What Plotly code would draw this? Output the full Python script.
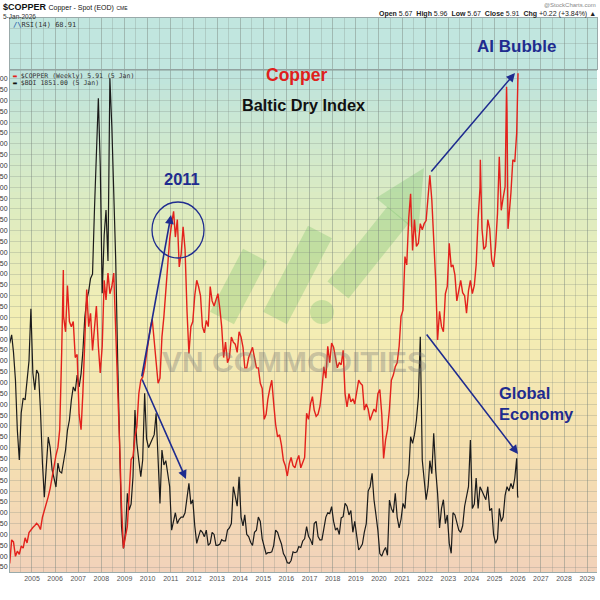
import plotly.graph_objects as go
import pandas as pd

# ---------------- data ----------------
# Copper spot ($/lb), monthly (mid-month) Jan-2004 .. Dec-2025
copper_monthly = [
    1.15, 1.38, 1.36, 1.22, 1.27, 1.24, 1.32, 1.30, 1.40, 1.35, 1.45, 1.48,
    1.50, 1.52, 1.54, 1.52, 1.48, 1.60, 1.66, 1.72, 1.80, 1.88, 2.00, 2.08,
    2.20, 2.28, 2.45, 3.20, 3.55, 3.40, 3.85, 3.50, 3.45, 3.50, 3.15, 3.18,
    2.60, 2.45, 2.80, 3.39, 3.81, 3.45, 3.58, 3.22, 3.42, 3.65, 3.26, 3.00,
    3.26, 3.90, 3.71, 3.97, 3.77, 3.84, 3.97, 3.45, 2.96, 2.32, 1.70, 1.30,
    1.41, 1.51, 1.83, 2.16, 2.19, 2.38, 2.48, 2.80, 2.93, 2.96, 3.05, 3.19,
    3.35, 3.45, 3.52, 3.29, 3.05, 2.90, 2.95, 3.35, 3.55, 3.80, 3.97, 4.30,
    4.45, 4.57, 4.32, 4.49, 4.03, 4.16, 4.42, 4.20, 3.60, 3.19, 3.45, 3.50,
    3.75, 3.90, 3.84, 3.75, 3.45, 3.39, 3.51, 3.45, 3.84, 3.70, 3.65, 3.72,
    3.77, 3.62, 3.45, 3.15, 3.30, 3.10, 3.15, 3.35, 3.30, 3.28, 3.20, 3.40,
    3.35, 3.25, 3.05, 3.05, 3.15, 3.20, 3.25, 3.15, 3.05, 3.05, 2.90, 2.85,
    2.55, 2.60, 2.75, 2.85, 2.93, 2.70, 2.50, 2.38, 2.40, 2.30, 2.15, 2.10,
    2.00, 2.12, 2.18, 2.10, 2.08, 2.15, 2.20, 2.08, 2.14, 2.18, 2.61, 2.55,
    2.70, 2.77, 2.64, 2.58, 2.60, 2.68, 2.85, 3.06, 2.95, 3.26, 3.10, 3.29,
    3.25, 3.13, 3.05, 3.10, 3.08, 3.22, 2.80, 2.67, 2.80, 2.72, 2.75, 2.70,
    2.80, 2.93, 2.90, 2.88, 2.64, 2.70, 2.65, 2.54, 2.60, 2.65, 2.62, 2.80,
    2.84, 2.60, 2.17, 2.35, 2.45, 2.65, 2.93, 2.98, 3.06, 3.10, 3.26, 3.55,
    3.61, 4.13, 4.05, 4.50, 4.74, 4.19, 4.49, 4.23, 4.26, 4.45, 4.39, 4.45,
    4.48, 4.68, 4.92, 4.68, 4.30, 3.90, 3.32, 3.60, 3.45, 3.40, 3.77, 3.84,
    4.26, 4.03, 4.05, 3.95, 3.70, 3.80, 3.90, 3.78, 3.75, 3.58, 3.80, 3.90,
    3.77, 3.85, 4.05, 4.50, 4.80, 4.40, 4.20, 4.23, 4.49, 4.40, 4.10, 4.03,
    4.23, 4.55, 5.10, 4.58, 4.70, 4.81, 5.55, 4.50, 4.75, 5.07, 5.05, 5.33,
]
copper_extra_dates = ["2006-05-11", "2024-05-20", "2025-07-08", "2025-07-31",
                      "2025-12-29", "2026-01-05"]
copper_extra_vals = [4.00, 5.07, 5.78, 4.40, 5.75, 5.91]

# Baltic Dry Index, monthly (mid-month) Jan-2004 .. Dec-2025
bdi_monthly = [
    5400, 5600, 5200, 4560, 3400, 2715, 3800, 4140, 4100, 4500, 5000, 6200,
    4720, 4330, 4790, 4700, 3867, 2646, 1860, 2554, 3245, 3000, 2485, 2300,
    2093, 2646, 2450, 2416, 2700, 2946, 3400, 3637, 4100, 4400, 4300, 4670,
    4400, 4700, 5200, 6000, 6400, 6600, 6900, 7000, 8500, 10000, 11048, 9500,
    6555, 7900, 8475, 7300, 11509, 10395, 8859, 7323, 5019, 2715, 1179, 680,
    1025, 1947, 1563, 1700, 2331, 3867, 3099, 2700, 2331, 2715, 4251, 3200,
    3000, 3100, 3200, 3300, 3790, 2900, 1716, 2945, 2600, 2700, 2400, 2100,
    1100, 1300, 1500, 1250, 1350, 1400, 1400, 1500, 1870, 2177, 1700, 1800,
    1200, 795, 950, 1100, 1050, 950, 1100, 750, 800, 1050, 1000, 750,
    750, 780, 880, 850, 850, 1100, 1150, 1250, 2100, 1900, 1650, 2331,
    1400, 1200, 1450, 1000, 950, 820, 750, 1050, 1100, 1400, 1300, 900,
    718, 550, 580, 580, 600, 750, 1100, 1050, 900, 780, 560, 480,
    350, 334, 400, 600, 580, 600, 720, 700, 850, 900, 1179, 960,
    880, 760, 1250, 1300, 950, 870, 880, 1200, 1400, 1500, 1480, 1640,
    1300, 1100, 1150, 1000, 1380, 1409, 1716, 1650, 1450, 1550, 1050, 1300,
    900, 642, 700, 780, 1050, 1250, 2000, 2100, 2408, 1800, 1450, 1100,
    560, 500, 620, 700, 520, 1793, 1600, 1500, 1947, 1400, 1150, 1350,
    1716, 1600, 2200, 2400, 3253, 3100, 3300, 3637, 4174, 5557, 2715, 2300,
    1800, 2100, 2700, 2400, 3330, 2485, 1947, 1150, 1600, 1800, 1250, 1450,
    800, 565, 1500, 1450, 1300, 1100, 1050, 1200, 1650, 1900, 2100, 3176,
    1600, 1700, 2300, 1600, 2100, 2000, 1900, 1800, 2100, 1550, 1600, 1000,
    795, 900, 1600, 1300, 1400, 1900, 2100, 2000, 2177, 2050, 2300, 2753,
]
bdi_extra_dates = ["2023-12-29", "2025-12-29", "2026-01-05"]
bdi_extra_vals = [2100, 1900, 1851]

bdi_ticks = list(range(250, 11751, 250))
year_ticks = list(range(2005, 2030))

# ---------------- build series ----------------
month_idx = pd.date_range("2004-01-01", periods=len(copper_monthly), freq="MS") + pd.Timedelta(days=14)
copper = pd.concat([pd.Series(copper_monthly, index=month_idx),
                    pd.Series(copper_extra_vals, index=pd.to_datetime(copper_extra_dates))]).sort_index()
bdi = pd.concat([pd.Series(bdi_monthly, index=month_idx),
                 pd.Series(bdi_extra_vals, index=pd.to_datetime(bdi_extra_dates))]).sort_index()

# ---------------- geometry helpers ----------------
W_, H_ = 600, 600
L, R, T, B = 10, 597, 18, 572
PW, PH = R - L, B - T


def px(x):
    return (x - L) / PW


def py(y):
    return (B - y) / PH


main_top = py(70)
rsi_bot = py(69)

NAVY = "#1f2c8f"
GRID = "rgba(120,130,125,0.26)"

fig = go.Figure()
fig.add_trace(go.Scatter(x=bdi.index, y=bdi.values, mode="lines", xaxis="x", yaxis="y",
                         line=dict(color="#1b1b1b", width=1.2), name="$BDI", hoverinfo="skip"))
fig.add_trace(go.Scatter(x=copper.index, y=copper.values, mode="lines", xaxis="x", yaxis="y2",
                         line=dict(color="#e3211c", width=1.4), name="$COPPER", hoverinfo="skip"))
fig.add_trace(go.Scatter(x=[], y=[], xaxis="x2", yaxis="y3", showlegend=False))

# ---------------- background shapes ----------------
shapes = []
stops = [(0.0, (242, 210, 186)), (0.25, (245, 224, 176)), (0.5, (244, 238, 180)),
         (0.72, (222, 236, 192)), (1.0, (190, 228, 222))]


def col_at(f):
    for (f0, c0), (f1, c1) in zip(stops[:-1], stops[1:]):
        if f0 <= f <= f1:
            t = (f - f0) / (f1 - f0)
            return "rgb(%d,%d,%d)" % tuple(round(a + (b - a) * t) for a, b in zip(c0, c1))
    return "rgb(%d,%d,%d)" % stops[-1][1]


N = 70
for i in range(N):
    f0 = i / N
    f1 = (i + 1) / N
    shapes.append(dict(type="rect", xref="paper", yref="paper", x0=0, x1=1,
                       y0=f0 * main_top, y1=f1 * main_top + 0.002,
                       fillcolor=col_at((f0 + f1) / 2), line=dict(width=0), layer="below"))
shapes.append(dict(type="rect", xref="paper", yref="paper", x0=0, x1=1, y0=rsi_bot, y1=1,
                   fillcolor="rgb(193,230,223)", line=dict(width=0), layer="below"))

# watermark logo (green translucent)
GREEN = "rgba(110,190,100,0.30)"
for (x0, y0, x1, y1) in [(222, 318, 255, 255), (275, 318, 320, 232), (338, 290, 398, 215)]:
    shapes.append(dict(type="line", xref="paper", yref="paper", x0=px(x0), y0=py(y0),
                       x1=px(x1), y1=py(y1), line=dict(color=GREEN, width=27), layer="below"))
shapes.append(dict(type="circle", xref="paper", yref="paper", x0=px(310), x1=px(334),
                   y0=py(324), y1=py(300), fillcolor=GREEN, line=dict(width=0), layer="below"))
tri = [(376, 198), (424, 168), (418, 233)]
path = "M %f %f L %f %f L %f %f Z" % (px(tri[0][0]), py(tri[0][1]), px(tri[1][0]), py(tri[1][1]),
                                       px(tri[2][0]), py(tri[2][1]))
shapes.append(dict(type="path", xref="paper", yref="paper", path=path, fillcolor=GREEN,
                   line=dict(width=0), layer="below"))

# separator between panels
shapes.append(dict(type="line", xref="paper", yref="paper", x0=0, x1=1, y0=main_top, y1=main_top,
                   line=dict(color="#8a9a96", width=1)))
# 2011 circle
shapes.append(dict(type="circle", xref="paper", yref="paper", x0=px(152), x1=px(204),
                   y0=py(258), y1=py(202), line=dict(color=NAVY, width=1.3)))

# ---------------- annotations ----------------
ann = []


def text(x, y, s, size, color="#222", xanchor="left", yanchor="top", family="Liberation Sans", **kw):
    ann.append(dict(x=px(x), y=py(y), xref="paper", yref="paper", text=s, showarrow=False,
                    xanchor=xanchor, yanchor=yanchor, font=dict(size=size, color=color, family=family), **kw))


text(1, 0, "<b>$COPPER</b> <span style='font-size:7px'>Copper - Spot (EOD)</span> "
           "<span style='font-size:5px'>CME</span>", 9, "#111")
text(1, 11, "5-Jan-2026", 6.5, "#333")
text(598, 0, "@StockCharts.com", 6, "#888", xanchor="right")
text(598, 8, "<b>Open</b> 5.67  <b>High</b> 5.96  <b>Low</b> 5.67  <b>Close</b> 5.91  "
             "<b>Chg</b> +0.22 (+3.84%) ▲", 7, "#222", xanchor="right")
text(11, 19, "<span style='color:#2b64a8'><b>/\\</b></span>RSI(14) 68.91", 7, "#333",
     family="DejaVu Sans Mono")
text(11, 70, "<span style='color:#e3211c'>▬</span> $COPPER (Weekly) 5.91 (5 Jan)", 6.5, "#333",
     family="DejaVu Sans Mono")
text(11, 77, "<span style='color:#111'>▬</span> $BDI 1851.00 (5 Jan)", 6.5, "#333",
     family="DejaVu Sans Mono")

text(296, 75, "<b>Copper</b>", 17.5, "#e0201b", xanchor="center", yanchor="middle")
text(303, 105, "<b>Baltic Dry Index</b>", 16.3, "#111", xanchor="center", yanchor="middle")
text(516, 47, "<b>AI Bubble</b>", 17, NAVY, xanchor="center", yanchor="middle")
text(182, 179, "<b>2011</b>", 16.5, NAVY, xanchor="center", yanchor="middle")
text(497, 403, "<b>Global<br>Economy</b>", 16.5, NAVY, xanchor="left", yanchor="middle", align="left")
text(294, 362, "<b>VN COMMODITIES</b>", 30, "rgba(120,120,120,0.36)", xanchor="center", yanchor="middle")


def arrow(hx, hy, tx, ty):
    ann.append(dict(x=px(hx), y=py(hy), xref="paper", yref="paper", ax=tx - hx, ay=ty - hy,
                    axref="pixel", ayref="pixel", text="", showarrow=True, arrowhead=2,
                    arrowsize=1.1, arrowwidth=1.6, arrowcolor=NAVY, standoff=0, startstandoff=0))


arrow(171, 215, 141.5, 378)
arrow(186, 479, 141.5, 378)
arrow(515, 73, 430, 173)
arrow(518, 454, 425.5, 333)

# ---------------- layout ----------------
xrange = ["2004-01-20", "2029-06-05"]
fig.update_layout(
    width=W_, height=H_,
    margin=dict(l=L, r=W_ - R, t=T, b=H_ - B),
    paper_bgcolor="white", plot_bgcolor="rgba(0,0,0,0)",
    showlegend=False,
    shapes=shapes, annotations=ann,
    font=dict(family="Liberation Sans", size=7, color="#444"),
    xaxis=dict(domain=[0, 1], anchor="y", type="date", range=xrange,
               tickvals=[f"{y}-01-01" for y in year_ticks], ticktext=[str(y) for y in year_ticks],
               tickfont=dict(size=7, color="#555"), ticks="", showgrid=True, gridcolor=GRID, gridwidth=1,
               minor=dict(dtick="M6", tick0="2005-01-01", showgrid=True, gridcolor=GRID, gridwidth=1),
               showline=True, linecolor="#9aa", mirror=False, zeroline=False),
    yaxis=dict(domain=[0, main_top], anchor="x", range=[135, 11701],
               tickvals=bdi_ticks, ticktext=[str(v) for v in bdi_ticks],
               tickfont=dict(size=7, color="#333"), ticks="", showgrid=True, gridcolor=GRID, gridwidth=1,
               showline=True, linecolor="#9aa", zeroline=False, automargin=False),
    yaxis2=dict(overlaying="y", anchor="x", range=[1.068, 5.942], visible=False),
    xaxis2=dict(domain=[0, 1], anchor="y3", matches="x", type="date", showticklabels=False,
                tickvals=[f"{y}-01-01" for y in year_ticks], ticks="",
                showgrid=True, gridcolor=GRID, gridwidth=1,
                minor=dict(dtick="M6", tick0="2005-01-01", showgrid=True, gridcolor=GRID, gridwidth=1),
                showline=True, linecolor="#9aa", mirror=True, zeroline=False),
    yaxis3=dict(domain=[rsi_bot, 1], anchor="x2", range=[0, 100], tickvals=[20, 50, 80],
                showticklabels=False, ticks="", showgrid=True, gridcolor=GRID, zeroline=False,
                showline=True, linecolor="#9aa", mirror=True),
)

fig.write_html("out.html", config={"displayModeBar": False},
               post_script="document.body.style.margin='0px';document.body.style.padding='0px';")
